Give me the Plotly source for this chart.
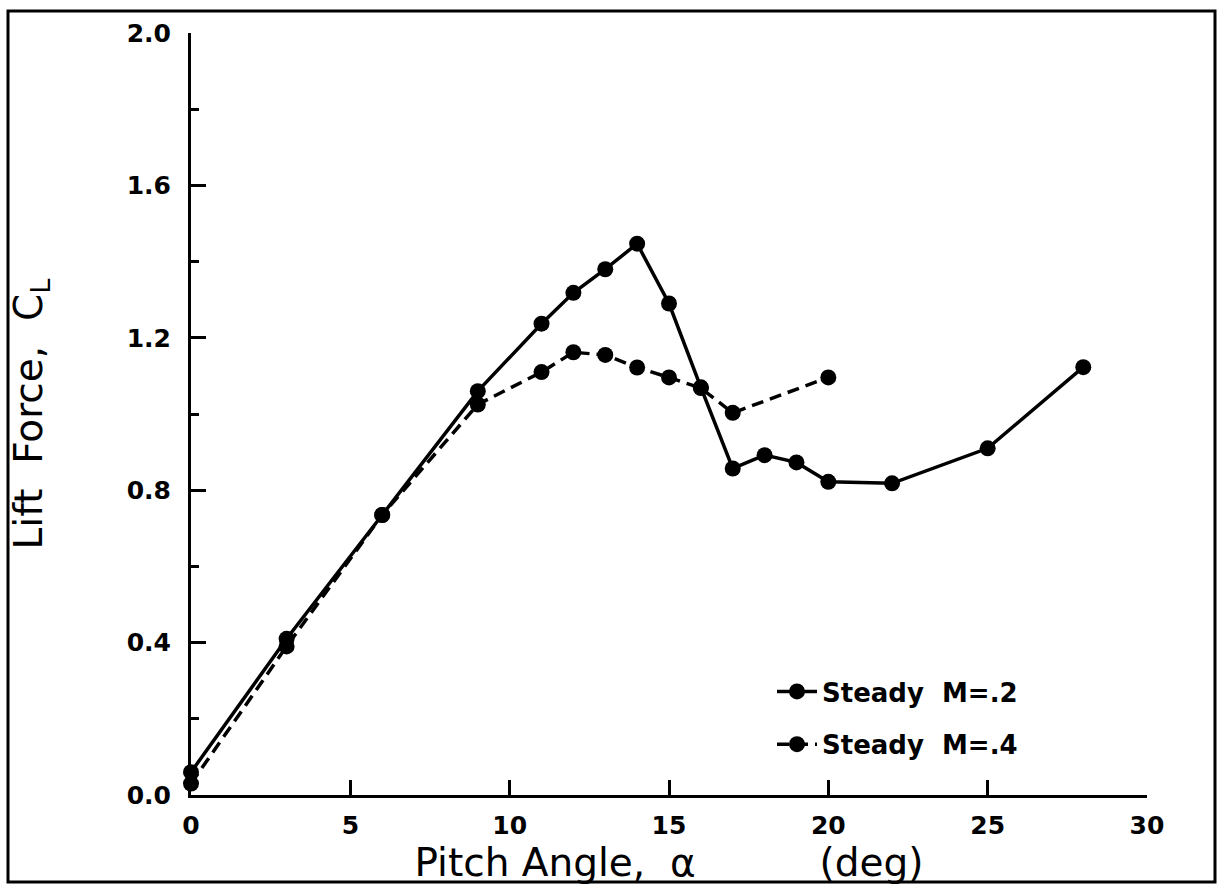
import plotly.graph_objects as go

# ---- data ----
alpha_m2 = [0, 3, 6, 9, 11, 12, 13, 14, 15, 16, 17, 18, 19, 20, 22, 25, 28]
cl_m2 = [0.06, 0.41, 0.735, 1.06, 1.237, 1.318, 1.38, 1.447, 1.29, 1.07, 0.857, 0.892, 0.873, 0.822, 0.818, 0.91, 1.123]

alpha_m4 = [0, 3, 6, 9, 11, 12, 13, 14, 15, 16, 17, 20]
cl_m4 = [0.03, 0.39, 0.735, 1.025, 1.11, 1.162, 1.155, 1.122, 1.096, 1.068, 1.003, 1.096]

name_m2 = "Steady\u00a0\u00a0M=.2"
name_m4 = "Steady\u00a0\u00a0M=.4"

x_ticks = [0, 5, 10, 15, 20, 25, 30]
y_ticks = [0.0, 0.4, 0.8, 1.2, 1.6, 2.0]
y_ticklabels = ["0.0", "0.4", "0.8", "1.2", "1.6", "2.0"]

# ---- layout geometry (pixels) ----
W, H = 1221, 887
L, R, T, B = 191, 1147, 33, 795

fig = go.Figure()
fig.add_trace(go.Scatter(
    x=alpha_m2, y=cl_m2, name=name_m2, mode="lines+markers",
    line=dict(color="black", width=3.5),
    marker=dict(color="black", size=16),
    cliponaxis=False, legendgroup="a",
))
fig.add_trace(go.Scatter(
    x=alpha_m4, y=cl_m4, name=name_m4, mode="lines+markers",
    line=dict(color="black", width=3.5, dash="12px,7px"),
    marker=dict(color="black", size=16),
    cliponaxis=False, legendgroup="b",
))

def px_x(p):
    return (p - L) / (R - L)

def px_y(p):
    return (B - p) / (B - T)

fig.add_shape(type="rect", xref="paper", yref="paper",
              x0=px_x(8), x1=px_x(1215), y0=px_y(882), y1=px_y(11),
              line=dict(color="black", width=3), layer="below")

title_font = dict(family="DejaVu Sans", size=39, color="black")
tick_font = dict(family="DejaVu Sans", size=25, color="black", weight="bold")

NB = "\u00a0"

fig.update_layout(
    width=W, height=H,
    margin=dict(l=L, r=W - R, t=T, b=H - B, autoexpand=False),
    paper_bgcolor="white", plot_bgcolor="white",
    showlegend=True,
    legend=dict(
        x=px_x(772), y=px_y(668), xanchor="left", yanchor="top",
        font=dict(family="DejaVu Sans", size=26, color="black", weight="bold"),
        bgcolor="rgba(0,0,0,0)", tracegroupgap=16, itemwidth=40,
    ),
    xaxis=dict(
        range=[0, 30], tickvals=x_ticks, ticktext=[str(v) for v in x_ticks],
        showgrid=False, zeroline=False, showline=True, linewidth=3, linecolor="black",
        ticks="inside", ticklen=15, tickwidth=3, tickcolor="black",
        tickfont=tick_font, ticklabelstandoff=6,
        title=dict(text="Pitch" + NB + "Angle," + NB + NB + "\u03b1" + NB * 10 + "(deg)",
                   font=title_font, standoff=2),
    ),
    yaxis=dict(
        range=[0, 2.0], tickvals=y_ticks, ticktext=y_ticklabels,
        showgrid=False, zeroline=False, showline=True, linewidth=3, linecolor="black",
        ticks="inside", ticklen=15, tickwidth=3, tickcolor="black",
        minor=dict(dtick=0.2, tick0=0, ticks="inside", ticklen=8, tickwidth=3, tickcolor="black", showgrid=False),
        tickfont=tick_font, ticklabelstandoff=12,
        title=dict(text="Lift" + NB + NB + "Force," + NB + NB + "C<sub>L</sub>", font=title_font, standoff=73),
    ),
)

fig.write_html("out.html")
